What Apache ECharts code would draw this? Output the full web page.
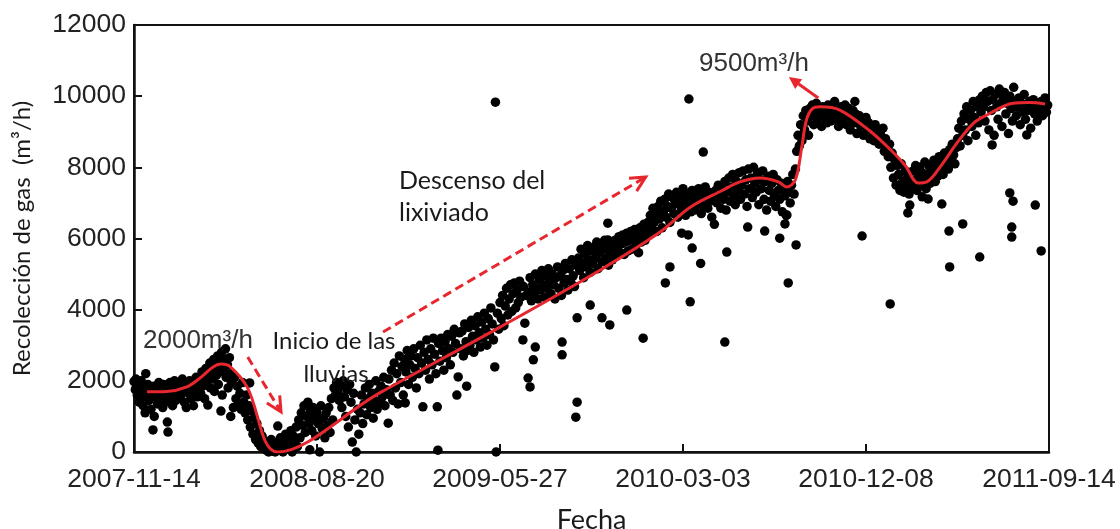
<!DOCTYPE html>
<html>
<head>
<meta charset="utf-8">
<script src="https://cdn.jsdelivr.net/npm/echarts@6/dist/echarts.min.js"></script>
<style>
  html, body { margin: 0; padding: 0; background: #fff; }
  #chart { width: 1120px; height: 529px; }
</style>
</head>
<body>
<div id="chart"></div>
<script>
// Days counted from 2007-11-14; axis ticks every 280 days.
const etiquetasFecha = ['2007-11-14', '2008-08-20', '2009-05-27', '2010-03-03', '2010-12-08', '2011-09-14'];
const pasoDias = 280;

// Daily gas collection measurements [day, m3/h]
const puntosInicio = [
  [0,1980],[2,1750],[3,2050],[5,1600],[7,1850],[8,1400],[10,1700],
  [11,2000],[12,1550],[14,1300],[15,1800],[17,1100],[18,2200],[20,1650],
  [21,1900],[23,1450],[24,1750],[26,1200],[27,1600],[29,620],[30,1850],
  [31,1000],[33,1550],[34,1750],[36,1350],[38,1950],[39,1650],
  [41,1500],[42,1800],[44,1250],[45,1900],[47,1600],[49,1400],
  [51,840],[52,560],[53,1700],[55,1950],[56,1500],[58,1800],[59,1300],
  [61,1650],[62,2000],[64,1450],[66,1850],[67,1700],[69,1550],
  [71,1900],[72,1600],[74,2050],[75,1750],[77,1400],[79,1950],
  [80,1250],[82,1800],[84,1650],[85,2000],[87,1500],[89,1850],
  [91,1300],[92,1950],[94,1700],[95,2100],[97,1550],[99,1900],
  [101,2000],[102,1650],[104,2250],[105,1850],[107,2100],[108,1500],[110,2350],[111,1950],
  [113,1320],[114,2200],[116,2500],[117,1800],[119,2300],[120,2050],[122,2600],[123,1700],
  [125,2400],[126,2150],[128,2700],[129,1900],[131,2500],[132,2250],[133,1150],[134,2800],
  [135,1600],[137,2350],[138,2600],[140,2900],[141,2100],[143,2450],[144,1800],[146,2650],
  [147,2200],[148,1000],[149,1950],
  [150,2000],[152,1250],[154,2100],[156,1500],[158,1850],[160,1300],[162,1650],[164,1200],
  [166,1950],[168,1400],[170,1100],[172,1600],[174,900],[177,1940],
  [176,1300],[178,700],[180,1150],[182,500],[184,950],[186,350],[188,800],[190,250],
  [192,600],[194,150],[196,450],[198,100],[200,300],
  [202,50],[204,200],[206,0],[208,120],[210,350],[212,30],[214,180],[216,0],[218,260],[220,730]
];

const puntosAscenso = [
  [222,80],[224,400],[226,150],[228,0],[230,300],
  [232,500],[234,100],[236,350],[238,200],[240,600],[242,0],[244,450],[246,250],[248,700],
  [250,150],[252,900],[254,400],
  [256,1100],[258,750],[260,1300],[262,550],[264,1000],[266,1400],[268,800],[269,60],[270,1150],
  [272,600],[274,1250],[276,950],[278,450],[280,1100],[282,800],[284,0],[286,1300],[288,650],[290,950],
  [292,400],[294,1100],[296,750],[298,1250],[300,550],[302,1500],[304,900],[306,1800],[308,1600],
  [310,1950],[312,1700],[314,1450],[316,1850],[318,1250],[320,2000],[322,1550],[324,1000],[326,1750],
  [328,700],[330,1900],[332,1400],[334,280],[336,1650],[338,900],[340,0],[342,1200],[344,500],
  [346,1100],[348,1600],[350,800],[352,1350],[354,1800],[356,1050],[358,1500],[360,1900],[362,1250],
  [364,1650],[366,950],[368,1450],[370,2000],[372,1200],[374,1700],[376,1400],[378,1850],[380,1550],
  [382,2100],[384,1300],[386,1750],[389,810],[390,2050],[392,1600],[394,2300],[396,1450],[398,2500],
  [400,1800],[402,2200],[404,1350],[406,2700],[408,1950],[410,2400],
  [412,1600],[414,2600],[415,1380],[416,2250],[418,2850],[420,1900],[422,2450],[424,2700],[426,2100],
  [428,2900],[430,2350],[432,1800],[434,2650],[436,2200],[438,3000],[440,2500],[442,1270],[444,2800],
  [446,2300],[448,3150],[450,2600],[452,2050],[454,2900],[456,2450],[458,3200],[460,2750],[462,2200],
  [464,1270],[465,50],[466,3050],[468,2550],[470,3200],[472,2850],[474,2300],[476,3100],[478,2650],
  [480,3300],[482,2900],[484,2450],[486,3250],[488,2800],[490,3450],[492,3050],[494,1600],[496,2110],
  [498,3350],[500,2900],
  [502,3400],[504,2700],[506,3600],[508,3100],[509,1850],[510,2850],[512,3500],[514,3000],[516,3700],
  [518,3250],[520,2800],[522,3550],[524,3150],[526,3800],[528,3350],[530,2950],[532,3650],[534,3200],
  [536,3900],[538,3450],[540,3000],[542,3750],[544,3300],[546,4050],[548,3600],[550,3150],[552,2390],
  [554,0],[556,3900],[558,3450],[560,4200],[562,3750],[564,4400],[566,3550],[568,4100],[570,4600],
  [572,3850],[574,4300],[576,4700],[578,3950],[580,4450],[582,4750],[584,4050],[586,4550],[588,4200],
  [590,4800],[592,4350],[596,4650],[600,4400],
  [604,4500],[606,4900],[608,4250],[610,4700],[612,4400],[614,5000],[616,4600],[618,4300],[620,4850],
  [622,4550],[624,5100],[626,4700],[628,4350],[630,4950],[632,4600],[634,5150],[636,4800],[638,4450],
  [640,5000],[642,4700],[644,4300],[646,4900],[648,5200],[650,4600],[652,4950],[654,4400],[656,5100],
  [658,4750],[660,5300],[662,4850],[664,4550],[666,5150],[668,4800],[670,5400],[672,4950],[674,4650],
  [676,5250],[680,5450],[682,5100],[684,5700],[686,5300],[688,4900],[690,5550],[692,5200],[694,5800],
  [696,5400],[698,5050],[700,5650],[702,5300],
  [704,5750],[706,5450],[708,5900],[710,5150],[712,5600],[714,5850],[716,5350],[718,5700],[720,5950],
  [722,5450],[724,5750],[726,5250],[728,5600],[730,5850],[732,5400],[734,5700],[736,5950],[738,5500],
  [740,5800],[742,6050],[744,5600],[746,5850],[748,6100],[750,5550],[752,5900],[754,6150],[756,5650],
  [758,5950],[760,6200],[762,5700],[764,6000],[766,6250],[768,5800],[770,6050],[772,5600],[774,6300],
  [776,5900],[778,6150],[780,6400],[782,5950],[784,6200],[786,6450],[788,6100],[790,6650],[792,6300],
  [794,6850],[796,6450],[798,6700],[800,6200]
];

const puntos2010 = [
  [802,6900],[804,6550],[806,7050],[808,6300],[810,6750],[812,7100],[814,6600],[816,6900],[818,7250],
  [820,6450],[822,6850],[824,7150],[826,6700],[828,7000],[830,7300],[832,6600],[834,6950],[836,7200],
  [838,6800],[840,7400],[842,7050],[844,6650],[846,7250],[848,6900],[850,7150],[852,6750],[854,7350],
  [856,7000],[858,6800],[860,7200],[862,6950],[864,7400],[866,7100],[868,6700],[870,7250],[872,6900],
  [874,7450],[876,7150],[878,6850],[880,7300],[882,7050],[884,6600],[886,7200],[888,6400],[890,7350],
  [892,7000],[894,7500],[896,7200],[898,6850],[900,7400],[902,7100],[904,7600],[906,6800],[908,7300],
  [910,7700],[912,7050],[914,7450],[916,7800],[918,7200],[920,6950],[922,7600],[924,7350],[926,7850],
  [928,7100],[930,7500],[932,7900],[934,7250],[936,7650],[938,6900],[940,7950],[942,7400],[944,7700],
  [946,7150],[948,8000],[950,7550],[952,7300],[954,7850],[956,6950],[958,7650],[960,7400],[962,7900],
  [964,7100],[966,7600],[968,6800],[970,7750],[972,7350],[974,7050],[976,7550],[978,7800],[980,7200],
  [982,6900],[984,7650],[986,7350],[988,7100],[990,7550],[992,6750],[994,7400],[996,7200],[998,6650],
  [1000,7600],[1002,7300],[1004,7000],[1006,7500],[1008,7800],[1010,7250],[1012,7950],
  [1014,8450],[1016,8900],[1018,8600],[1020,9200],[1022,8750],[1024,9450],[1026,9050],[1028,9600],
  [1030,9300],[1032,8900],[1034,9650],
  [1036,9450],[1038,9750],[1040,9200],[1042,9550],[1044,9800],[1046,9350],[1048,9650],[1050,9450],
  [1052,9150],[1054,9700],[1056,9400],[1058,9600],[1060,9250],[1062,9750],[1064,9500],[1066,9300],
  [1068,9650],[1070,9450],[1072,9850],[1074,9350],[1076,9600],[1078,9150],[1080,9500],[1082,9700],
  [1084,9300],[1086,9550],[1088,9750],[1090,9200],[1092,9450],[1094,9650],[1096,9050],[1098,9400],
  [1100,9600],[1102,9250],[1103,9850],[1104,9500],[1106,8950],[1108,9300],[1110,9450],[1112,9150],
  [1114,9350],[1116,8900],[1118,9200],[1120,9400],[1122,9050],[1124,9250],[1126,8800],[1128,9100]
];

const puntos2011 = [
  [1130,9000],[1132,8750],[1134,9200],[1136,8850],[1138,9050],[1140,8650],[1142,8950],[1144,8700],
  [1146,9100],[1148,8450],[1150,8800],[1152,8550],[1154,8300],[1156,8650],[1158,8000],[1160,8400],
  [1162,7700],[1164,8200],[1166,7500],[1168,8050],[1170,7800],[1172,7350],[1174,8100],[1176,7600],
  [1178,7300],[1180,7900],[1182,7450],[1184,7750],[1186,7250],[1188,7650],
  [1190,7450],[1192,7900],[1194,7600],[1196,8050],[1198,7350],[1200,7750],[1202,8000],[1204,7500],
  [1206,7850],[1208,7650],[1210,8150],[1212,7400],[1214,7800],[1216,8050],[1218,7550],[1220,7900],
  [1222,7700],[1224,8200],[1226,7600],[1228,8000],[1230,7750],[1232,8300],[1234,7900],[1236,8150],
  [1238,7800],[1240,8400],[1242,8050],[1244,8300],[1246,7950],[1248,8500],[1250,8200],[1252,8650],
  [1254,8350],[1256,8100],[1258,8550],
  [1260,8800],[1262,9100],[1264,8600],[1266,9300],[1268,8900],[1270,9500],[1272,9050],[1274,9700],
  [1276,8750],[1278,9350],[1280,9600],[1282,9150],[1284,9850],[1286,9400],[1288,8900],[1290,9700],
  [1292,9250],[1294,9900],
  [1296,9550],[1298,10000],[1300,9700],[1302,9300],[1304,10100],[1306,9850],[1308,9050],[1310,10150],
  [1312,9600],[1314,9900],[1316,8900],[1318,10050],[1320,9700],[1322,9350],[1324,10200],[1326,9800],
  [1328,9150],[1330,9950],[1332,10100],[1334,9500],[1336,9800],[1338,8950],[1340,10000],[1342,9650],
  [1344,9300],[1346,10250],[1348,9850],[1350,9450],[1352,9700],[1354,9950],[1356,9200],[1358,9800],
  [1360,9550],[1362,10050],[1364,9350],[1366,9750],[1368,9600],[1370,9850],[1372,9100],[1374,9700],
  [1376,9900],[1378,9500],[1380,9750],[1382,9300],[1384,9800],[1386,9600],[1388,9850],[1390,9450],
  [1392,9700],[1394,9950],[1396,9550],[1398,9750]
];

// Isolated readings away from the main cloud
const puntosAtipicos = [
  [553,9830],[595,3150],[598,3620],[603,2080],[606,1830],[611,2590],[614,2950],[655,3090],[655,2730],
  [678,3770],[678,1400],[676,980],[698,4130],[716,3770],[728,3570],[725,6430],[725,5960],[756,6100],
  [754,3990],[779,3200],[813,4750],[820,5200],[838,6150],[848,6100],[849,9920],[851,4220],[854,5730],
  [867,5300],[871,8430],[904,3090],[907,5620],[939,6320],[965,6210],[988,6010],[996,6410],[999,6660],
  [1001,4750],[1013,5820],[1114,6070],[1157,4160],[1184,6720],[1187,6940],[1206,7170],[1215,7110],
  [1236,6970],[1247,6210],[1248,5200],[1268,6410],[1294,5480],[1313,8630],[1340,7280],[1345,7050],
  [1343,6320],[1343,6040],[1366,8910],[1379,6940],[1388,5650]
];

// Trend curve [day, m3/h]
const tendencia = [
  [20,1690],[50,1700],[81,1830],[101,2080],[121,2390],[133,2470],[147,2400],[173,1830],[220,0],
  [376,1660],[560,3510],[713,5110],[805,6180],[851,6880],[900,7350],[927,7590],[958,7700],[985,7600],
  [999,7450],[1012,7650],[1022,8600],[1030,9400],[1042,9690],[1050,9700],[1080,9610],[1126,9020],
  [1161,8430],[1180,8050],[1200,7560],[1213,7590],[1235,8050],[1259,8680],[1285,9250],[1305,9470],
  [1345,9800],[1370,9820],[1394,9780]
];

const rojo = '#e8262d';
const fuenteNum = '"Liberation Sans", Arial, sans-serif';
const fuenteTexto = 'Lato, "Open Sans", sans-serif';

const chart = echarts.init(document.getElementById('chart'), null, { renderer: 'canvas' });

const serieDispersion = (datos) => ({
  type: 'scatter', data: datos, symbolSize: 9.5, clip: false, silent: true, z: 2,
  itemStyle: { color: '#000', opacity: 1 }
});

chart.setOption({
  animation: false,
  backgroundColor: '#fff',
  grid: {
    left: 134, right: 71, top: 25, bottom: 77, show: true, borderColor: '#111', borderWidth: 2,
    containLabel: false, outerBoundsMode: 'none'
  },
  xAxis: {
    type: 'value', min: 0, max: pasoDias * (etiquetasFecha.length - 1), interval: pasoDias,
    splitLine: { show: false },
    axisLine: { lineStyle: { color: '#111', width: 2.5 } },
    axisTick: { inside: true, length: 8, lineStyle: { color: '#111', width: 2 } },
    axisLabel: {
      formatter: v => etiquetasFecha[Math.round(v / pasoDias)],
      fontFamily: fuenteNum, fontSize: 26.5, color: '#222', margin: 14,
      showMinLabel: true, showMaxLabel: true, hideOverlap: false
    },
    name: 'Fecha', nameLocation: 'middle', nameGap: 55,
    nameTextStyle: { fontFamily: fuenteTexto, fontSize: 27, color: '#1a1a1a' }
  },
  yAxis: {
    type: 'value', min: 0, max: 12000, interval: 2000,
    splitLine: { show: false },
    axisLine: { show: true, lineStyle: { color: '#111', width: 2.5 } },
    axisTick: { show: true, inside: true, length: 8, lineStyle: { color: '#111', width: 2 } },
    axisLabel: { formatter: v => String(v), fontFamily: fuenteNum, fontSize: 26.5, color: '#222', margin: 8 },
    name: 'Recolección de gas  (m³/h)', nameLocation: 'middle', nameGap: 100, nameRotate: 90,
    nameTextStyle: { fontFamily: fuenteTexto, fontSize: 24, color: '#1a1a1a' }
  },
  series: [
    serieDispersion(puntosInicio),
    serieDispersion(puntosAscenso),
    serieDispersion(puntos2010),
    serieDispersion(puntos2011),
    serieDispersion(puntosAtipicos),
    {
      type: 'line', data: tendencia, smooth: 0.35, showSymbol: false, silent: true, z: 5,
      lineStyle: { color: rojo, width: 3 }
    }
  ]
});

// Annotation arrows, given in data coordinates [day, m3/h]
const flechas = [
  { desde: [174, 2670], hasta: [225, 1124], discontinua: true, rellena: false },
  { desde: [381, 3372], hasta: [783, 7728], discontinua: true, rellena: false },
  { desde: [1047, 9947], hasta: [1002, 10537], discontinua: false, rellena: true }
];

function dibujarFlecha(f) {
  const p0 = chart.convertToPixel({ xAxisIndex: 0, yAxisIndex: 0 }, f.desde);
  const p1 = chart.convertToPixel({ xAxisIndex: 0, yAxisIndex: 0 }, f.hasta);
  const ang = Math.atan2(p1[1] - p0[1], p1[0] - p0[0]);
  const largo = f.rellena ? 12 : 15, ancho = f.rellena ? 6 : 7.5;
  const bx = p1[0] - largo * Math.cos(ang), by = p1[1] - largo * Math.sin(ang);
  const izq = [bx + ancho * Math.sin(ang), by - ancho * Math.cos(ang)];
  const der = [bx - ancho * Math.sin(ang), by + ancho * Math.cos(ang)];
  const fin = f.rellena ? [bx, by] : [p1[0] - 2 * Math.cos(ang), p1[1] - 2 * Math.sin(ang)];
  const elems = [{
    type: 'line', silent: true, z: 10,
    shape: { x1: p0[0], y1: p0[1], x2: fin[0], y2: fin[1] },
    style: { stroke: rojo, lineWidth: 3, lineDash: f.discontinua ? [9, 5] : null }
  }];
  if (f.rellena) {
    elems.push({ type: 'polygon', silent: true, z: 10, shape: { points: [izq, p1, der] }, style: { fill: rojo } });
  } else {
    elems.push({ type: 'polyline', silent: true, z: 10, shape: { points: [izq, p1, der] },
      style: { stroke: rojo, lineWidth: 3, fill: null } });
  }
  return elems;
}

const textos = [
  { text: '2000m³/h', x: 143, y: 341, font: fuenteNum, size: 26, color: '#333', align: 'left' },
  { text: '9500m³/h', x: 699, y: 64, font: fuenteNum, size: 26, color: '#333', align: 'left' },
  { text: 'Inicio de las', x: 334, y: 341, font: fuenteTexto, size: 24, color: '#1a1a1a', align: 'center' },
  { text: 'lluvias', x: 336, y: 374, font: fuenteTexto, size: 24, color: '#1a1a1a', align: 'center' },
  { text: 'Descenso del', x: 399, y: 181, font: fuenteTexto, size: 25, color: '#1a1a1a', align: 'left' },
  { text: 'lixiviado', x: 399, y: 213, font: fuenteTexto, size: 25, color: '#1a1a1a', align: 'left' }
];

let graficos = [];
flechas.forEach(f => { graficos = graficos.concat(dibujarFlecha(f)); });
textos.forEach(t => graficos.push({
  type: 'text', silent: true, z: 10, x: t.x, y: t.y,
  style: { text: t.text, fontFamily: t.font, fontSize: t.size, fill: t.color, align: t.align, verticalAlign: 'middle' }
}));
chart.setOption({ graphic: graficos });
</script>
</body>
</html>
